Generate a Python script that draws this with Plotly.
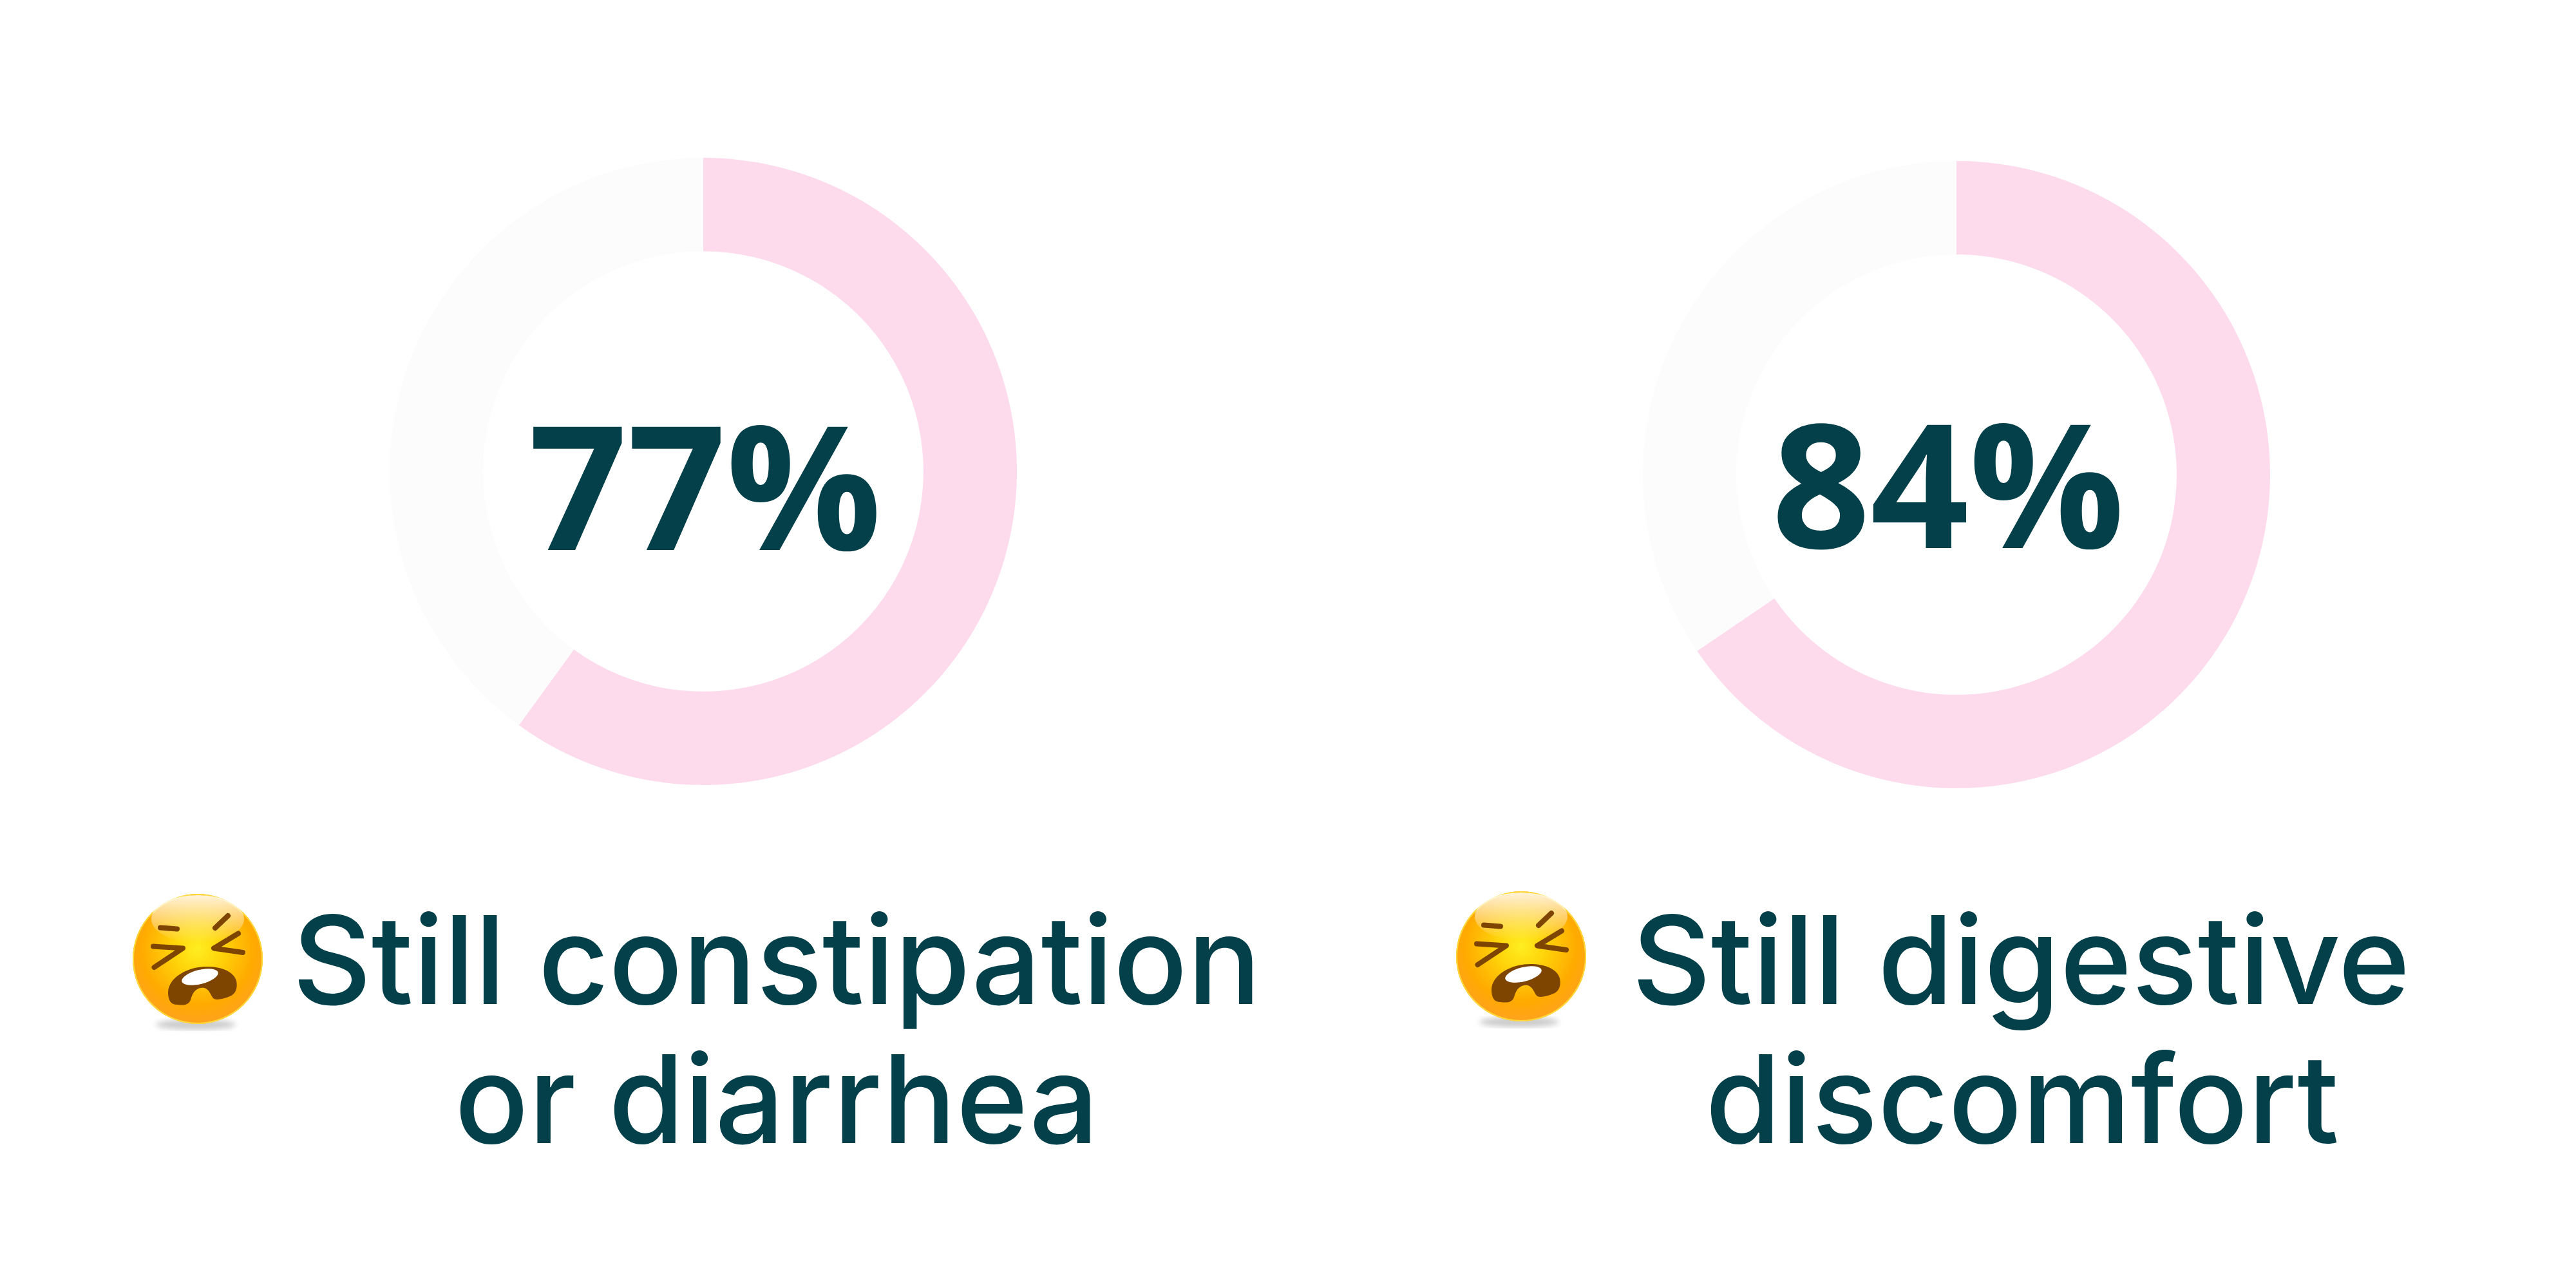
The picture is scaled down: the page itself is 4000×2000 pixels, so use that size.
"""Two donut charts with an emoji and a caption under each"""
import base64
import plotly.graph_objects as go

# data
segments = ['Still', 'Better']
left_values = [60, 40]
right_values = [65.5, 34.5]
left_label = '77%'
right_label = '84%'
left_caption = ['Still constipation', 'or diarrhea']
right_caption = ['Still digestive', 'discomfort']

W, H = 4000, 2000
TEXT_COLOR = '#04404A'
PINK = '#FDDBEC'
GREY = '#FCFCFC'

EMOJI_SVG = """<svg xmlns="http://www.w3.org/2000/svg" viewBox="0 0 204 224" width="816" height="896">
<defs>
<radialGradient id="face" cx="0.5" cy="0.42" r="0.62">
<stop offset="0" stop-color="#FFEE22"/><stop offset="0.3" stop-color="#FFD40A"/>
<stop offset="0.7" stop-color="#FFAA00"/><stop offset="1" stop-color="#FFA028"/>
</radialGradient>
<linearGradient id="shine" x1="0" y1="0" x2="0" y2="1">
<stop offset="0" stop-color="#FFFFFF" stop-opacity="0.85"/><stop offset="1" stop-color="#FFFFFF" stop-opacity="0"/>
</linearGradient>
<filter id="blur"><feGaussianBlur stdDeviation="4"/></filter>
</defs>
<ellipse cx="99" cy="204" rx="62" ry="8" fill="#999999" opacity="0.5" filter="url(#blur)"/>
<circle cx="102" cy="102" r="101" fill="url(#face)"/>
<circle cx="102" cy="102" r="100" fill="none" stroke="#FFD93A" stroke-width="2"/>
<ellipse cx="102" cy="40" rx="72" ry="37" fill="url(#shine)"/>
<g fill="none" stroke="#7E4500" stroke-width="8" stroke-linecap="round" stroke-linejoin="round">
<path d="M44 53.5 L70 55.5"/>
<path d="M33 82.5 L79 85.5 L34.5 115"/>
<path d="M149 35 L129 54"/>
<path d="M165 62.5 L127 85.5 L172 92"/>
</g>
<path fill="#7E4500" d="M116 114 C85 114 56 132 56 154 C56 166 60 173 70 173 C84 175 90 172 92 162 C96 150 104 146 112 147 C120 149 122 158 126 163 C130 167 142 164 152 160 C162 156 164 146 162 136 C158 122 140 114 116 114 Z"/>
<ellipse cx="105.5" cy="130" rx="29" ry="11" fill="#FFFFFF" transform="rotate(-14 105.5 130)"/>
</svg>"""
EMOJI_URI = 'data:image/svg+xml;base64,' + base64.b64encode(EMOJI_SVG.encode()).decode()


def donut(values, cx, cy, radius=487, hole=0.702):
    """ピクセル指定の中心・半径でドーナツを作成"""
    return go.Pie(
        labels=segments,
        values=values,
        hole=hole,
        sort=False,
        direction='clockwise',
        rotation=0,
        textinfo='none',
        hoverinfo='skip',
        showlegend=False,
        marker=dict(colors=[PINK, GREY], line=dict(width=0)),
        domain=dict(
            x=[(cx - radius) / W, (cx + radius) / W],
            y=[1 - (cy + radius) / H, 1 - (cy - radius) / H],
        ),
    )


def text_at(text, cx, baseline, size, weight, family, drop):
    # baseline はピクセル指定、drop は行ボックス下端までの比率
    return dict(
        text=text,
        xref='paper', yref='paper',
        x=cx / W,
        y=1 - (baseline + size * drop) / H,
        xanchor='center', yanchor='bottom',
        showarrow=False,
        font=dict(family=family, size=size, color=TEXT_COLOR, weight=weight),
    )


def emoji_at(left, top):
    return dict(
        source=EMOJI_URI,
        xref='paper', yref='paper',
        x=left / W, y=1 - top / H,
        sizex=204 / W, sizey=224 / H,
        xanchor='left', yanchor='top',
        sizing='stretch',
        layer='above',
    )


fig = go.Figure()
fig.add_trace(donut(left_values, 1092, 732))
fig.add_trace(donut(right_values, 3038, 737))

annotations = [
    text_at(left_label, 1095, 853, 268, 700, 'Open Sans', 0.305),
    text_at(right_label, 3025, 850, 268, 700, 'Open Sans', 0.305),
    text_at(left_caption[0], 1206, 1558, 190, 500, 'Inter', 0.26),
    text_at(left_caption[1], 1206, 1774, 190, 500, 'Inter', 0.26),
    text_at(right_caption[0], 3138, 1558, 190, 500, 'Inter', 0.26),
    text_at(right_caption[1], 3140, 1774, 190, 500, 'Inter', 0.26),
]

fig.update_layout(
    width=W,
    height=H,
    margin=dict(l=0, r=0, t=0, b=0),
    paper_bgcolor='#ffffff',
    plot_bgcolor='#ffffff',
    annotations=annotations,
    images=[emoji_at(205, 1387), emoji_at(2260, 1383)],
)

fig.write_html("out.html", config=dict(displayModeBar=False),
               post_script="document.body.style.margin='0';")
